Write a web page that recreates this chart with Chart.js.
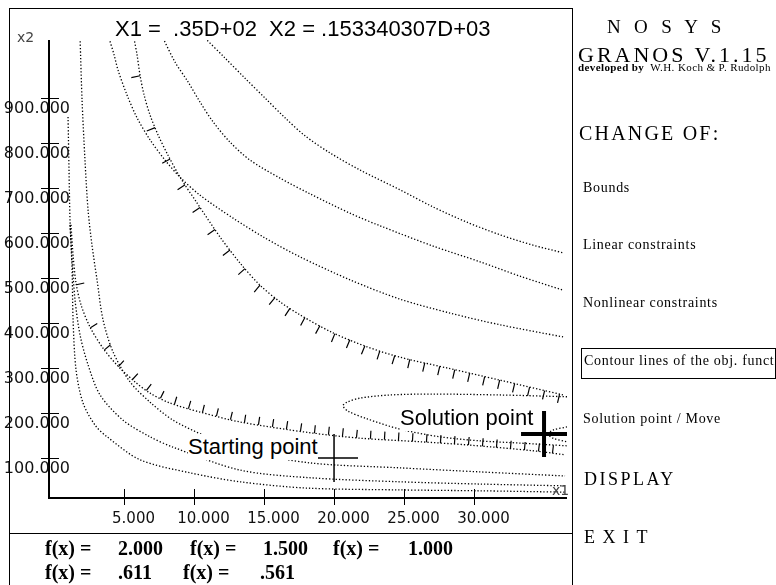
<!DOCTYPE html>
<html>
<head>
<meta charset="utf-8">
<title>GRANOS contour plot</title>
<script src="https://cdn.jsdelivr.net/npm/chart.js@4/dist/chart.umd.min.js"></script>
<style>
  html, body { margin: 0; padding: 0; background: #fff; }
  body { width: 776px; height: 585px; position: relative; overflow: hidden; }
  #plot { position: absolute; left: 0; top: 0; }
  .frame { position: absolute; left: 9px; top: 8px; width: 564px; height: 600px; border: 1px solid #000; box-sizing: border-box; }
  .sep { position: absolute; left: 9px; top: 533px; width: 564px; height: 1px; background: #000; }
  .t { position: absolute; white-space: nowrap; line-height: normal; color: #000; }
  .sans { font-family: "Liberation Sans", Arial, sans-serif; font-size: 22px; }
  .bg { background: #fff; }
  .axname { font-family: "DejaVu Sans", sans-serif; font-size: 14px; color: #444; }
  .serif { font-family: "Liberation Serif", "Times New Roman", serif; }
  .menu { font-size: 14px; letter-spacing: 0.7px; left: 583px; }
  .fx { font-family: "Liberation Serif", serif; font-weight: bold; font-size: 20px; }
  .box { position: absolute; left: 581px; top: 348px; width: 195px; height: 31px; border: 1px solid #000; box-sizing: border-box; overflow: hidden; }
</style>
</head>
<body>
<canvas id="plot" width="776" height="585"></canvas>
<div class="frame"></div>
<div class="sep"></div>

<div class="t sans" style="left:115px; top:16px;">X1 =&nbsp; .35D+02&nbsp; X2 = .153340307D+03</div>
<div class="t axname" style="left:17px; top:29px;">x2</div>
<div class="t axname" style="left:552px; top:482px;">x1</div>
<div class="t sans bg" style="left:188px; top:434px;">Starting point</div>
<div class="t sans bg" style="left:400px; top:405px;">Solution point</div>

<div class="t fx" style="left:45px; top:537px;">f(x) =</div>
<div class="t fx" style="left:118px; top:537px;">2.000</div>
<div class="t fx" style="left:190px; top:537px;">f(x) =</div>
<div class="t fx" style="left:263px; top:537px;">1.500</div>
<div class="t fx" style="left:333px; top:537px;">f(x) =</div>
<div class="t fx" style="left:408px; top:537px;">1.000</div>
<div class="t fx" style="left:45px; top:561px;">f(x) =</div>
<div class="t fx" style="left:118px; top:561px;">.611</div>
<div class="t fx" style="left:183px; top:561px;">f(x) =</div>
<div class="t fx" style="left:260px; top:561px;">.561</div>

<div class="t serif" style="left:607px; top:16px; font-size:19px; letter-spacing:4.3px;">N O S Y S</div>
<div class="t serif" style="left:578px; top:42px; font-size:22px; letter-spacing:3px;">GRANOS V.1.15</div>
<div class="t serif" style="left:578px; top:61px; font-size:11px; letter-spacing:0.4px;"><b>developed by</b>&nbsp; W.H. Koch &amp; P. Rudolph</div>
<div class="t serif" style="left:579px; top:122px; font-size:20px; letter-spacing:2.2px;">CHANGE OF:</div>
<div class="t serif menu" style="top:180px;">Bounds</div>
<div class="t serif menu" style="top:237px;">Linear constraints</div>
<div class="t serif menu" style="top:295px;">Nonlinear constraints</div>
<div class="box"><div class="t serif menu" style="left:2px; top:4px;">Contour lines of the obj. function</div></div>
<div class="t serif menu" style="top:411px;">Solution point / Move</div>
<div class="t serif" style="left:584px; top:469px; font-size:18px; letter-spacing:2.5px;">DISPLAY</div>
<div class="t serif" style="left:584px; top:527px; font-size:18px; letter-spacing:7.5px;">EXIT</div>

<script>
// axis ticks
const xTicks = [5, 10, 15, 20, 25, 30];
const yTicks = [100, 200, 300, 400, 500, 600, 700, 800, 900];

// contour lines of the objective, upper right family (x1, x2)
const upperContour1 = [[10.79, 1033], [12.21, 989], [13.64, 944], [15.07, 900], [16.5, 856], [17.93, 816],
  [19.71, 778], [21.86, 740], [24.71, 696], [27.07, 658], [29.5, 624], [31.86, 596], [34.21, 573], [36.36, 556]];
const upperContour2 = [[7.79, 1033], [8.64, 980], [9.57, 936], [10.43, 891], [11.36, 847], [12.57, 802],
  [14.0, 762], [16.14, 722], [18.29, 687], [21.14, 644], [23.29, 616], [27.07, 571], [30.43, 536], [33.29, 504], [36.36, 473]];
const upperContour3 = [[3.93, 1033], [4.29, 996], [4.57, 962], [5.21, 907], [5.93, 856], [6.86, 807], [7.93, 762],
  [9.0, 724], [10.43, 684], [12.79, 633], [15.07, 589], [17.57, 547], [21.14, 496], [24.71, 453], [28.29, 422], [31.86, 396], [36.36, 369]];

// contour lines, lower left family
const lowerContour1 = [[1.0, 858], [1.07, 740], [1.14, 629], [1.29, 518], [1.36, 407], [1.57, 296], [2.07, 222],
  [2.93, 173], [3.79, 147], [6.14, 96], [9.71, 67], [13.29, 47], [18.07, 33], [24.71, 29], [30.43, 27], [36.5, 24]];
const lowerContour2 = [[1.14, 618], [1.29, 540], [1.5, 451], [1.86, 373], [2.43, 307], [3.29, 240], [4.93, 184],
  [6.86, 147], [8.5, 124], [13.29, 73], [18.29, 56], [24.71, 47], [30.43, 42], [36.5, 38]];
const lowerContour3 = [[1.86, 1033], [2.0, 896], [2.21, 762], [2.43, 651], [2.71, 573], [3.07, 496], [3.5, 407],
  [4.21, 336], [5.43, 269], [6.86, 224], [8.5, 184], [10.93, 147], [13.29, 118], [18.29, 89], [24.71, 78], [30.43, 69], [36.5, 60]];

// contours around the optimum
const optimumContour = [[36.64, 236], [31.86, 240], [27.07, 242], [24.0, 240], [21.86, 233], [20.93, 224], [20.64, 216],
  [21.0, 204], [22.36, 187], [24.71, 164], [27.57, 147], [30.43, 138], [33.29, 133], [36.64, 127]];
const optimumInner = [[36.64, 169], [35.64, 162], [35.29, 153], [35.64, 144], [36.64, 136]];

// nonlinear constraints (hatched)
const constraintUpper = [[5.71, 1033], [5.93, 996], [6.14, 951], [6.43, 907], [6.86, 862], [7.43, 818], [8.14, 773],
  [9.0, 724], [10.21, 667], [11.86, 591], [13.29, 533], [14.71, 484], [16.14, 447], [17.57, 418], [19.93, 378],
  [22.36, 347], [24.71, 324], [28.07, 300], [31.86, 273], [36.36, 240]];
const constraintLower = [[1.21, 618], [1.36, 551], [1.57, 489], [1.93, 440], [2.57, 391], [3.5, 344], [4.57, 304],
  [5.79, 269], [6.86, 244], [8.29, 222], [10.43, 202], [13.29, 180], [18.29, 156], [21.86, 144], [26.14, 136],
  [29.5, 129], [34.21, 116], [36.5, 107]];

// points
const startPoint = [[20, 100]];
const solutionPoint = [[35, 153.340307]];

const toXY = pts => pts.map(([x, y]) => ({ x, y }));

function curve(label, pts, extra) {
    return Object.assign({
        label: label,
        data: toXY(pts),
        showLine: true,
        pointRadius: 0,
        borderColor: '#000',
        borderWidth: 1.3,
        borderDash: [1.3, 2],
        tension: 0.3,
        fill: false
    }, extra || {});
}

// axes, ticks, labels and constraint hatching
const overlay = {
    id: 'overlay',
    afterDatasetsDraw(chart) {
        const { ctx, chartArea: a, scales: { x, y } } = chart;
        ctx.save();
        ctx.strokeStyle = '#000';

        // hatch marks along the constraint curves, one per step of x1
        ctx.lineWidth = 1.2;
        chart.data.datasets.forEach(ds => {
            if (!ds.hatch) return;
            const pts = ds.data;
            const h = ds.hatch;
            ctx.beginPath();
            for (let t = h.start; t <= x.max; t += h.step) {
                for (let k = 0; k < pts.length - 1; k++) {
                    const p = pts[k], q = pts[k + 1];
                    if (p.x === q.x || (p.x - t) * (q.x - t) > 0) continue;
                    const f = (t - p.x) / (q.x - p.x);
                    const px = x.getPixelForValue(t);
                    const py = y.getPixelForValue(p.y + f * (q.y - p.y));
                    if (py < a.top || px > a.right) break;
                    const dx = x.getPixelForValue(q.x) - x.getPixelForValue(p.x);
                    const dy = y.getPixelForValue(q.y) - y.getPixelForValue(p.y);
                    const n = Math.hypot(dx, dy);
                    ctx.moveTo(px, py);
                    ctx.lineTo(px - dy / n * h.side * h.len, py + dx / n * h.side * h.len);
                    break;
                }
            }
            ctx.stroke();
        });

        // axis lines
        ctx.lineWidth = 2;
        ctx.beginPath();
        ctx.moveTo(a.left, a.top);
        ctx.lineTo(a.left, a.bottom);
        ctx.lineTo(a.right, a.bottom);
        ctx.stroke();

        // y ticks
        ctx.lineWidth = 1;
        ctx.fillStyle = '#111';
        ctx.font = '16px "DejaVu Sans"';
        ctx.textAlign = 'right';
        ctx.textBaseline = 'alphabetic';
        yTicks.forEach(v => {
            const py = Math.round(y.getPixelForValue(v)) + 0.5;
            ctx.beginPath();
            ctx.moveTo(a.left - 8, py);
            ctx.lineTo(a.left + 10, py);
            ctx.stroke();
            ctx.fillText(v.toFixed(3), a.left + 21, py + 14);
        });

        // x ticks
        ctx.font = '15px "DejaVu Sans"';
        ctx.textAlign = 'center';
        xTicks.forEach(v => {
            const px = Math.round(x.getPixelForValue(v)) + 0.5;
            ctx.beginPath();
            ctx.moveTo(px, a.bottom - 9);
            ctx.lineTo(px, a.bottom + 7);
            ctx.stroke();
            ctx.fillText(v.toFixed(3), px + 9, a.bottom + 25);
        });
        ctx.restore();
    }
};

const chartData = {
    datasets: [
        curve('f(x) = 2.000', upperContour1),
        curve('f(x) = 1.500', upperContour2),
        curve('f(x) = 1.000', upperContour3),
        curve('contour 4', lowerContour1),
        curve('contour 5', lowerContour2),
        curve('contour 6', lowerContour3),
        curve('f(x) = .611', optimumContour),
        curve('f(x) = .561', optimumInner),
        curve('Constraint 1', constraintUpper, { hatch: { start: 6.15, step: 1.07, len: 9, side: 1 } }),
        curve('Constraint 2', constraintLower, { hatch: { start: 1.6, step: 1.0, len: 8, side: -1 } }),
        {
            label: 'Starting point',
            data: toXY(startPoint),
            showLine: false,
            pointStyle: 'cross',
            pointRadius: 24,
            pointBorderWidth: 1.5,
            borderColor: '#000'
        },
        {
            label: 'Solution point',
            data: toXY(solutionPoint),
            showLine: false,
            pointStyle: 'cross',
            pointRadius: 23,
            pointBorderWidth: 4,
            borderColor: '#000'
        }
    ]
};

const config = {
    type: 'scatter',
    data: chartData,
    options: {
        responsive: false,
        animation: false,
        devicePixelRatio: 1,
        events: [],
        layout: { padding: { left: 49, top: 40, right: 209, bottom: 87 } },
        scales: {
            x: { type: 'linear', min: -0.36, max: 36.64, display: false },
            y: { type: 'linear', min: 11, max: 1029, display: false }
        },
        plugins: {
            legend: { display: false },
            tooltip: { enabled: false }
        }
    },
    plugins: [overlay]
};

new Chart(document.getElementById('plot').getContext('2d'), config);
</script>
</body>
</html>
